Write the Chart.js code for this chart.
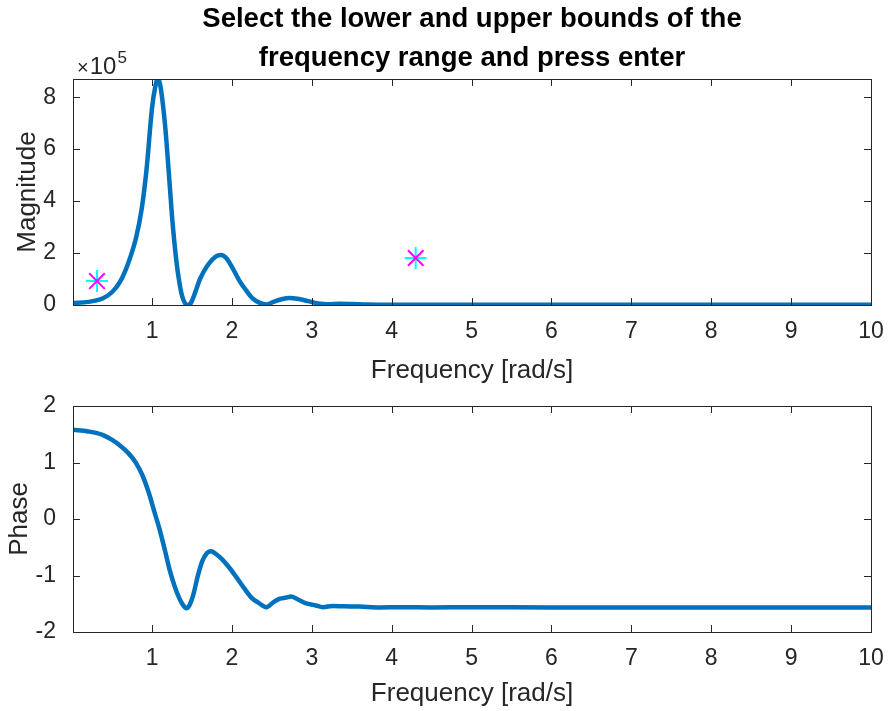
<!DOCTYPE html>
<html>
<head>
<meta charset="utf-8">
<script src="https://cdn.jsdelivr.net/npm/chart.js@4.4.1/dist/chart.umd.min.js"></script>
<style>
  html, body { margin: 0; padding: 0; background: #fff; }
  #wrap { position: relative; width: 888px; height: 711px; }
  canvas { position: absolute; left: 0; }
</style>
</head>
<body>
<div id="wrap">
  <canvas id="magChart" width="888" height="390" style="top:0"></canvas>
  <canvas id="phaseChart" width="888" height="321" style="top:390px"></canvas>
</div>
<script>
// Werte
const magFreq = [0.01, 0.2, 0.38, 0.5, 0.6, 0.7, 0.8, 0.87, 0.93, 1.0, 1.04, 1.07, 1.1, 1.14, 1.18, 1.25, 1.3, 1.34, 1.38, 1.44,
  1.48, 1.53, 1.6, 1.7, 1.8, 1.86, 1.93, 2.02, 2.1, 2.18, 2.26, 2.35, 2.43, 2.52, 2.62, 2.72, 2.82, 2.95, 3.08, 3.2,
  3.35, 3.5, 3.7, 4.0, 5, 6, 7, 8, 9, 10];
const magValues = [0.08e5, 0.12e5, 0.25e5, 0.5e5, 0.9e5, 1.6e5, 2.6e5, 3.7e5, 5.2e5, 7.6e5, 8.4e5, 8.72e5, 8.5e5, 7.6e5, 6.3e5, 3.4e5, 1.8e5, 0.9e5, 0.3e5, 0,
  0.05e5, 0.4e5, 1.0e5, 1.55e5, 1.87e5, 1.92e5, 1.8e5, 1.35e5, 0.9e5, 0.55e5, 0.25e5, 0.08e5, 0.02e5, 0.12e5, 0.22e5, 0.27e5, 0.24e5, 0.15e5, 0.06e5, 0.03e5,
  0.05e5, 0.04e5, 0.02e5, 0.01e5, 0.01e5, 0.01e5, 0.005e5, 0.005e5, 0.005e5, 0.005e5];

const phaseFreq = [0.01, 0.2, 0.38, 0.5, 0.59, 0.7, 0.8, 0.88, 0.96, 1.03, 1.09, 1.16, 1.22, 1.28, 1.34, 1.39, 1.43, 1.47, 1.52, 1.57,
  1.63, 1.69, 1.74, 1.8, 1.88, 1.96, 2.05, 2.15, 2.25, 2.33, 2.43, 2.52, 2.6, 2.68, 2.74, 2.82, 2.92, 3.05, 3.14, 3.26,
  3.4, 3.6, 3.85, 4.1, 4.5, 5, 6, 7, 8, 9, 10];
const phaseValues = [1.58, 1.55, 1.49, 1.4, 1.31, 1.17, 0.99, 0.77, 0.46, 0.12, -0.16, -0.55, -0.9, -1.18, -1.4, -1.53, -1.58, -1.52, -1.32, -1.02,
  -0.74, -0.6, -0.57, -0.62, -0.72, -0.85, -1.02, -1.22, -1.4, -1.48, -1.56, -1.47, -1.41, -1.39, -1.37, -1.42, -1.49, -1.53, -1.56, -1.54,
  -1.545, -1.55, -1.565, -1.56, -1.565, -1.56, -1.565, -1.565, -1.565, -1.565, -1.565];

// ausgewählte Punkte (Sternchen)
const pickFreq = [0.31, 4.30];
const pickMag = [0.92e5, 1.81e5];

const xTicks = [1, 2, 3, 4, 5, 6, 7, 8, 9, 10];
const magTicks = [0, 2e5, 4e5, 6e5, 8e5];
const phaseTicks = [-2, -1, 0, 1, 2];

const FONT = "'Liberation Sans', Arial, Helvetica, sans-serif";
const AXIS_COLOR = '#262626';
const LINE_COLOR = '#0072BD';

const toPoints = (xs, ys) => xs.map((x, i) => ({ x: x, y: ys[i] }));

// Rahmen und nach innen zeigende Ticks wie in MATLAB
const boxPlugin = {
  id: 'matlabBox',
  afterDraw(chart) {
    const { ctx, chartArea: a, scales } = chart;
    ctx.save();
    ctx.strokeStyle = AXIS_COLOR;
    ctx.lineWidth = 1;
    ctx.strokeRect(Math.round(a.left) + 0.5, Math.round(a.top) + 0.5, Math.round(a.right - a.left), Math.round(a.bottom - a.top));
    const len = 7;
    ctx.beginPath();
    scales.x.ticks.forEach(t => {
      const px = Math.round(scales.x.getPixelForValue(t.value)) + 0.5;
      ctx.moveTo(px, a.bottom); ctx.lineTo(px, a.bottom - len);
      ctx.moveTo(px, a.top); ctx.lineTo(px, a.top + len);
    });
    scales.y.ticks.forEach(t => {
      const py = Math.round(scales.y.getPixelForValue(t.value)) + 0.5;
      ctx.moveTo(a.left, py); ctx.lineTo(a.left + len, py);
      ctx.moveTo(a.right, py); ctx.lineTo(a.right - len, py);
    });
    ctx.stroke();
    ctx.restore();
  }
};

// Exponent-Beschriftung oben links
const exponentPlugin = {
  id: 'exponentLabel',
  afterDraw(chart) {
    const { ctx, chartArea: a } = chart;
    ctx.save();
    ctx.fillStyle = AXIS_COLOR;
    ctx.textBaseline = 'alphabetic';
    ctx.textAlign = 'left';
    ctx.font = '20px ' + FONT;
    ctx.fillText('\u00D7', a.left + 4, a.top - 5);
    let w = ctx.measureText('\u00D7').width;
    ctx.font = '24px ' + FONT;
    ctx.fillText('10', a.left + 5 + w, a.top - 5);
    w += ctx.measureText('10').width;
    ctx.font = '17px ' + FONT;
    ctx.fillText('5', a.left + 6 + w, a.top - 16);
    ctx.restore();
  }
};

function xScale(height) {
  return {
    type: 'linear',
    min: 0.01,
    max: 10,
    afterBuildTicks: s => { s.ticks = xTicks.map(v => ({ value: v })); },
    afterFit: s => { s.height = height; s.paddingLeft = 0; s.paddingRight = 0; },
    grid: { display: false, drawTicks: false },
    border: { display: false },
    ticks: { color: AXIS_COLOR, font: { family: FONT, size: 23 }, padding: 13, maxRotation: 0 },
    title: { display: true, text: 'Frequency [rad/s]', color: AXIS_COLOR, font: { family: FONT, size: 26 }, padding: 0 }
  };
}

function yScale(opts) {
  return {
    type: 'linear',
    min: opts.min,
    max: opts.max,
    afterBuildTicks: s => { s.ticks = opts.ticks.map(v => ({ value: v })); },
    afterFit: s => { s.width = 73; s.paddingTop = 0; s.paddingBottom = 0; },
    grid: { display: false, drawTicks: false },
    border: { display: false },
    ticks: { color: AXIS_COLOR, font: { family: FONT, size: 23 }, padding: 17, callback: opts.label },
    title: { display: true, text: opts.title, color: AXIS_COLOR, font: { family: FONT, size: 26 }, padding: { top: opts.titlePad, bottom: 0 } }
  };
}

const lineStyle = {
  showLine: true,
  borderColor: LINE_COLOR,
  backgroundColor: LINE_COLOR,
  borderWidth: 4.5,
  pointRadius: 0,
  cubicInterpolationMode: 'monotone',
  order: 2
};

new Chart(document.getElementById('magChart'), {
  type: 'scatter',
  data: {
    datasets: [
      Object.assign({ label: 'Magnitude', data: toPoints(magFreq, magValues) }, lineStyle),
      { label: 'pick+', data: toPoints(pickFreq, pickMag), pointStyle: 'cross', pointRadius: 11, borderColor: '#00FFFF', borderWidth: 2, order: 1 },
      { label: 'pickx', data: toPoints(pickFreq, pickMag), pointStyle: 'crossRot', pointRadius: 11, borderColor: '#FF00FF', borderWidth: 2, order: 0 }
    ]
  },
  options: {
    responsive: false,
    animation: false,
    devicePixelRatio: 1,
    layout: { padding: { left: 0, right: 17, top: 0, bottom: 4 } },
    plugins: {
      legend: { display: false },
      tooltip: { enabled: false },
      title: {
        display: true,
        fullSize: false,
        text: ['Select the lower and upper bounds of the', 'frequency range and press enter'],
        color: '#000',
        font: { family: FONT, size: 27.5, weight: 'bold', lineHeight: 39 / 27.5 },
        padding: { top: 0, bottom: 1 }
      }
    },
    scales: {
      x: xScale(81),
      y: yScale({ min: 0, max: 8.7e5, ticks: magTicks, title: 'Magnitude', titlePad: 12, label: v => String(v / 1e5) })
    }
  },
  plugins: [boxPlugin, exponentPlugin]
});

new Chart(document.getElementById('phaseChart'), {
  type: 'scatter',
  data: {
    datasets: [
      Object.assign({ label: 'Phase', data: toPoints(phaseFreq, phaseValues) }, lineStyle)
    ]
  },
  options: {
    responsive: false,
    animation: false,
    devicePixelRatio: 1,
    layout: { padding: { left: 0, right: 17, top: 16, bottom: 2 } },
    plugins: { legend: { display: false }, tooltip: { enabled: false } },
    scales: {
      x: xScale(77),
      y: yScale({ min: -2, max: 2, ticks: phaseTicks, title: 'Phase', titlePad: 4, label: v => String(v) })
    }
  },
  plugins: [boxPlugin]
});
</script>
</body>
</html>
